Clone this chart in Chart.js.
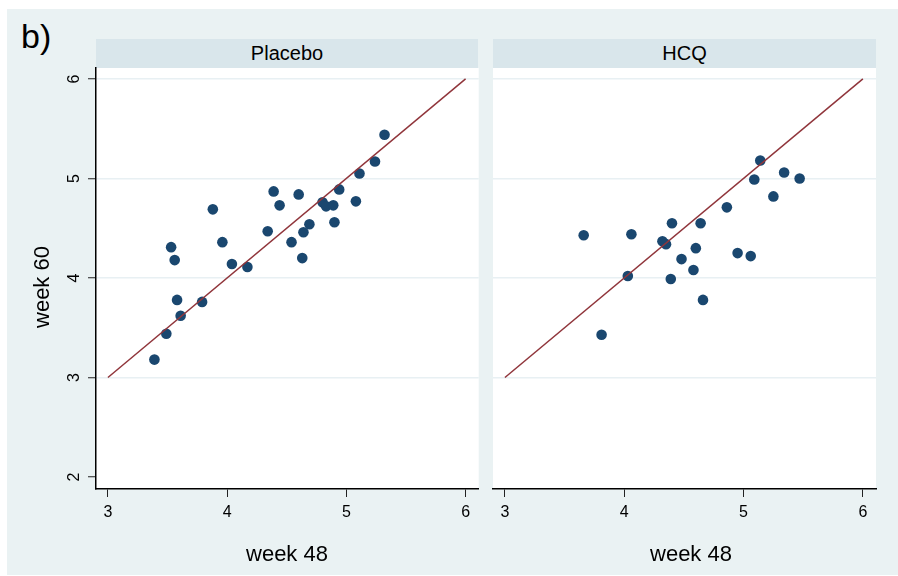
<!DOCTYPE html>
<html>
<head>
<meta charset="utf-8">
<script src="https://cdn.jsdelivr.net/npm/chart.js@4"></script>
<style>
  body { margin: 0; width: 898px; height: 576px; position: relative; background: #fff; overflow: hidden;
         font-family: "Liberation Sans", Arial, sans-serif; color: #000; }
  #bg { position: absolute; left: 7px; top: 9px; width: 891px; height: 566px; background: #eaf2f3; }
  .strip { position: absolute; top: 39px; height: 29px; line-height: 29px; background: #d9e6eb;
           text-align: center; font-size: 20px; }
  .lab { position: absolute; white-space: nowrap; text-align: center; }
  .xt { top: 543px; width: 200px; font-size: 22px; line-height: 22px; }
  canvas { position: absolute; top: 60px; }
</style>
</head>
<body>
<div id="bg"></div>
<div class="lab" style="left:21px; top:19px; font-size:34px; line-height:34px;">b)</div>
<div class="strip" style="left:96px; width:382px;">Placebo</div>
<div class="strip" style="left:493px; width:383px;">HCQ</div>
<canvas id="placeboChart" width="484" height="516" style="left:0"></canvas>
<canvas id="hcqChart" width="418" height="516" style="left:480px"></canvas>
<div class="lab" style="left:-8px; top:276px; width:100px; height:22px; font-size:22px; line-height:22px; transform:rotate(-90deg);">week 60</div>
<div class="lab xt" style="left:187px;">week 48</div>
<div class="lab xt" style="left:591px;">week 48</div>
<script>
// tick labels
const xTicks = [3, 4, 5, 6];
const yTicks = [2, 3, 4, 5, 6];
// line of equality y = x
const refLine = [3, 6];

// Placebo group
const placeboWeek48 = [5.32, 5.24, 5.11, 4.94, 4.39, 4.60, 4.44, 3.88, 4.80, 4.83, 4.89, 5.08, 4.90, 4.69,
                       4.64, 4.34, 4.54, 3.96, 4.63, 3.53, 3.56, 4.04, 4.17, 3.58, 3.79, 3.61, 3.49, 3.39];
const placeboWeek60 = [5.44, 5.17, 5.05, 4.89, 4.87, 4.84, 4.73, 4.69, 4.76, 4.72, 4.73, 4.77, 4.56, 4.54,
                       4.46, 4.47, 4.36, 4.36, 4.20, 4.31, 4.18, 4.14, 4.11, 3.78, 3.76, 3.62, 3.44, 3.18];

// HCQ group
const hcqWeek48 = [5.14, 5.34, 5.47, 5.09, 5.25, 4.86, 4.40, 4.64, 3.66, 4.06, 4.32, 4.35, 4.60, 4.48,
                   4.95, 5.06, 4.58, 4.03, 4.39, 4.66, 3.81];
const hcqWeek60 = [5.18, 5.06, 5.00, 4.99, 4.82, 4.71, 4.55, 4.55, 4.43, 4.44, 4.37, 4.34, 4.30, 4.19,
                   4.25, 4.22, 4.08, 4.02, 3.99, 3.78, 3.43];

const tickFont = { family: '"Liberation Sans", Arial, sans-serif', size: 16 };

// white plot region
const plotBg = {
    id: 'plotBg',
    beforeDraw(chart) {
        const a = chart.chartArea;
        chart.ctx.save();
        chart.ctx.fillStyle = '#ffffff';
        chart.ctx.fillRect(a.left, a.top, a.right - a.left, a.bottom - a.top);
        chart.ctx.restore();
    }
};

// fixed axis size, no extra room for overhanging labels
function fixSize(s, size) {
    if (s.isHorizontal()) s.height = size; else s.width = size;
    s.paddingTop = 0;
    s.paddingBottom = 0;
    s.paddingLeft = 0;
    s.paddingRight = 0;
}

function makePanel(id, xs, ys, withYAxis, padRight) {
    const ctx = document.getElementById(id).getContext('2d');
    new Chart(ctx, {
        type: 'scatter',
        data: {
            datasets: [{
                data: refLine.map(v => ({ x: v, y: v })),
                showLine: true,
                borderColor: '#90353b',
                borderWidth: 1.5,
                pointRadius: 0
            }, {
                data: xs.map((x, i) => ({ x: x, y: ys[i] })),
                backgroundColor: '#1a476f',
                borderWidth: 0,
                pointRadius: 5.3
            }]
        },
        options: {
            responsive: false,
            animation: false,
            layout: { padding: { left: 0, right: padRight, top: 8, bottom: 0 } },
            plugins: { legend: { display: false }, tooltip: { enabled: false } },
            scales: {
                x: {
                    type: 'linear',
                    min: 2.9,
                    max: 6.11,
                    afterBuildTicks: s => { s.ticks = xTicks.map(v => ({ value: v })); },
                    afterFit: s => fixSize(s, 87),
                    border: { display: true, color: '#000', width: 1.5 },
                    grid: { drawOnChartArea: false, tickLength: 8, tickColor: '#222', tickWidth: 1 },
                    ticks: { color: '#000', font: tickFont, padding: 6, maxRotation: 0 }
                },
                y: {
                    type: 'linear',
                    min: 1.88,
                    max: 6.11,
                    afterBuildTicks: s => { s.ticks = yTicks.map(v => ({ value: v })); },
                    afterFit: s => fixSize(s, withYAxis ? 96 : 13),
                    border: { display: withYAxis, color: '#000', width: 1.5 },
                    grid: {
                        color: c => (c.tick && c.tick.value === yTicks[0]) ? 'rgba(0,0,0,0)' : '#e8f0f3',
                        lineWidth: 1.5,
                        drawTicks: withYAxis,
                        tickLength: 8,
                        tickColor: '#222',
                        tickWidth: 1
                    },
                    ticks: {
                        display: withYAxis,
                        color: '#000',
                        font: tickFont,
                        padding: 9,
                        minRotation: 90,
                        maxRotation: 90,
                        crossAlign: 'center'
                    }
                }
            }
        },
        plugins: [plotBg]
    });
}

makePanel('placeboChart', placeboWeek48, placeboWeek60, true, 2);
makePanel('hcqChart', hcqWeek48, hcqWeek60, false, 22);
</script>
</body>
</html>
